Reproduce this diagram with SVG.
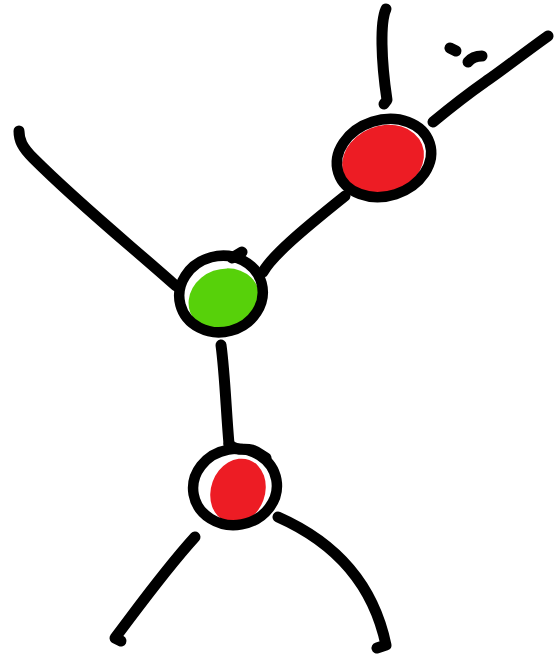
<svg xmlns="http://www.w3.org/2000/svg" width="558" height="668" viewBox="0 0 558 668">
<style>
.ln{fill:none;stroke:#000;stroke-width:11;stroke-linecap:round;stroke-linejoin:round}
.ring{fill:none;stroke:#000;stroke-width:10.5}
.red{fill:#ed1c24}
.green{fill:#57d10a}
</style>
<rect width="558" height="668" fill="#fff"/>
<g id="connectors">
<path class="ln" d="M386,9 C380,22 381,60 387,100 L384,104"/>
<path class="ln" d="M548,36 C520,56 500,72 485,82 C465,96 450,108 433,122"/>
<path class="ln" d="M263,272 C272,256 300,232 345,196"/>
<path class="ln" d="M19,131 C19,140 22,147 33,158 C80,205 130,245 176,286"/>
<path class="ln" d="M221,345 C225,375 226,410 229,444"/>
<path class="ln" d="M195,537 C165,570 140,605 115,638 L121,641"/>
<path class="ln" d="M278,517 C330,540 372,578 386,645 L377,648"/>
<path class="ln" d="M450,48 L456,51"/>
<path class="ln" d="M468,62 C472,57 478,56 482,56"/>
</g>
<g id="node-top">
<ellipse class="red" cx="383" cy="160" rx="42" ry="34" transform="rotate(-22 383 160)"/>
<ellipse class="ring" cx="384" cy="158" rx="48" ry="38" transform="rotate(-18 384 158)"/>
</g>
<g id="node-middle">
<ellipse class="green" cx="224" cy="300" rx="36" ry="31" transform="rotate(-20 224 300)"/>
<ellipse class="ring" cx="221" cy="294" rx="42" ry="38" transform="rotate(-15 221 294)"/>
<path class="ln" d="M232,258 L242,252"/>
</g>
<g id="node-bottom">
<ellipse class="red" cx="238" cy="491" rx="27" ry="33" transform="rotate(20 238 491)"/>
<ellipse class="ring" cx="235" cy="487" rx="42" ry="38" transform="rotate(-10 235 487)"/>
<path class="ln" d="M229,444 C235,452 245,448 252,450 C258,452 262,456 266,458"/>
</g>
</svg>
